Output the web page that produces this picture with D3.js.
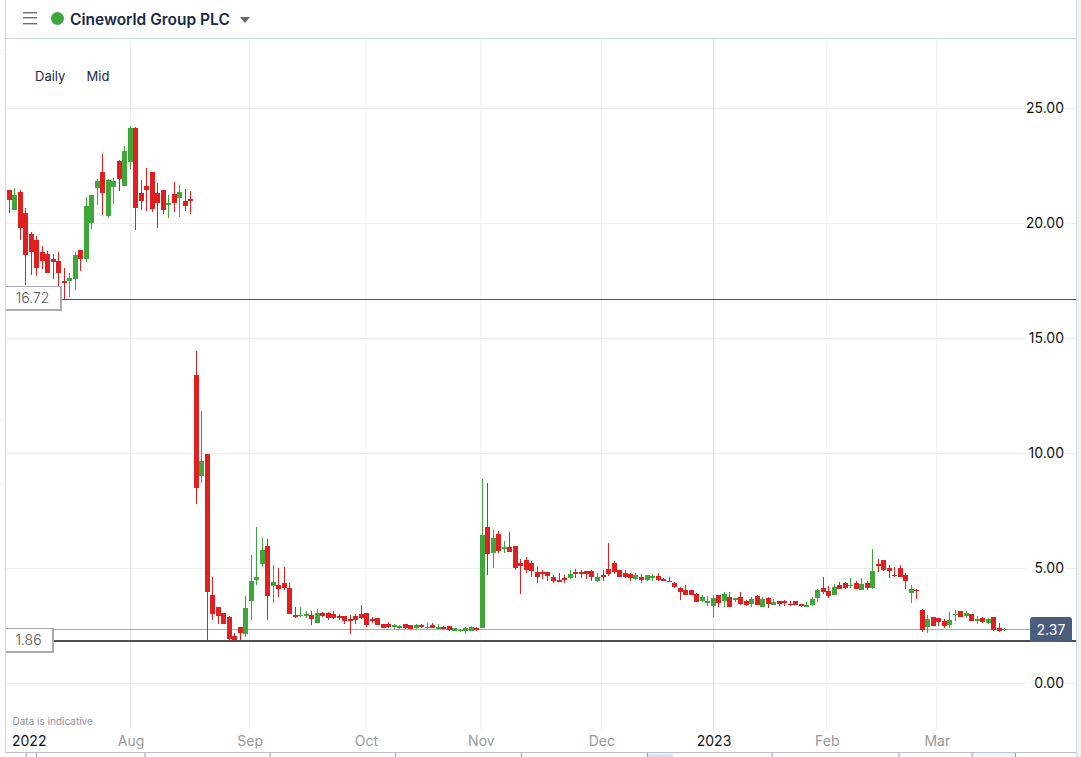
<!DOCTYPE html>
<html><head><meta charset="utf-8">
<script src="https://cdnjs.cloudflare.com/ajax/libs/d3/7.8.5/d3.min.js"></script>
<style>html,body{margin:0;padding:0;background:#fff;overflow:hidden}svg{display:block}text{font-family:Inter,"Noto Sans",sans-serif}</style>
</head><body><svg id="c" width="1081" height="757"></svg>
<script>
const instrument = "Cineworld Group PLC";
const opens = [21.43,20.57,21.35,20.43,19.52,19.26,18.74,18.65,18.43,18.35,
17.48,17.48,17.57,18.83,18.43,20.0,21.52,22.22,20.30,21.57,
22.70,21.61,22.65,24.13,21.30,21.61,22.22,21.30,21.43,20.80,
21.26,21.09,20.96,21.04,13.39,9.0,9.96,3.83,3.30,3.04,
2.87,2.04,2.43,2.13,3.57,4.48,5.17,5.96,4.22,4.26,
4.35,4.13,2.96,2.91,2.91,2.96,2.61,3.04,3.04,3.0,
2.91,2.91,2.78,2.91,3.0,3.04,2.78,2.83,2.57,2.57,
2.43,2.39,2.57,2.52,2.39,2.52,2.39,2.52,2.35,2.43,
2.48,2.26,2.26,2.26,2.26,2.39,2.39,6.78,5.65,6.48,
5.83,5.91,5.96,5.22,5.35,5.22,4.83,4.83,4.83,4.61,
4.48,4.57,4.57,4.83,4.83,4.87,4.87,4.43,4.70,4.96,
5.22,4.91,4.78,4.74,4.52,4.61,4.48,4.57,4.65,4.52,
4.43,4.35,4.13,4.04,4.04,3.87,3.57,3.48,3.35,3.83,
3.57,3.74,3.61,3.74,3.57,3.43,3.78,3.30,3.70,3.39,
3.57,3.57,3.43,3.57,3.43,3.30,3.39,3.70,4.13,4.0,
3.83,4.26,4.35,4.22,4.35,4.04,4.35,4.13,5.17,5.35,
5.0,4.70,5.0,4.70,3.91,4.04,3.17,2.43,2.87,2.83,
2.70,2.52,2.96,3.13,2.91,3.0,2.70,2.83,2.61,2.87,
2.39,2.30];
const closes = [21.0,21.22,19.78,18.61,18.74,18.04,18.35,17.83,18.30,17.83,
17.39,17.61,18.61,18.43,20.74,21.22,21.83,21.30,21.87,21.83,
21.91,23.13,24.13,20.65,20.96,21.43,20.61,20.87,20.57,20.87,
20.87,21.35,20.74,20.96,8.49,9.65,3.96,3.0,2.91,2.57,
1.91,1.87,2.17,3.26,4.43,4.61,5.78,3.78,4.39,4.09,
4.13,3.0,2.87,2.96,3.0,2.78,3.04,2.91,2.83,2.83,
2.83,2.70,2.70,2.74,2.83,2.52,2.70,2.52,2.39,2.43,
2.52,2.48,2.39,2.35,2.52,2.43,2.43,2.39,2.43,2.35,
2.30,2.39,2.30,2.39,2.43,2.30,6.43,5.61,6.30,5.74,
5.91,5.70,5.0,5.09,4.91,4.87,4.61,4.74,4.65,4.43,
4.39,4.48,4.74,4.74,4.74,4.74,4.61,4.61,4.61,4.74,
4.83,4.61,4.61,4.57,4.70,4.48,4.70,4.65,4.48,4.43,
4.39,4.17,3.96,3.83,3.83,3.52,3.74,3.57,3.70,3.48,
3.87,3.30,3.70,3.43,3.39,3.65,3.39,3.65,3.43,3.52,
3.43,3.48,3.39,3.39,3.35,3.39,3.65,4.04,3.96,3.78,
4.17,4.09,4.13,4.26,4.09,4.30,4.13,4.87,5.09,4.91,
4.87,4.65,4.61,4.43,4.09,4.0,2.30,2.78,2.48,2.65,
2.48,2.74,3.0,2.87,3.04,2.70,2.78,2.65,2.78,2.30,
2.26,2.35];
const highs = [21.43,21.52,21.43,20.65,19.61,19.43,19.0,18.78,18.65,18.74,
18.04,17.83,18.74,18.83,21.13,21.22,21.91,23.0,21.91,21.96,
22.74,23.35,24.22,24.19,21.87,22.39,22.22,21.74,21.43,21.22,
21.78,21.65,21.48,21.39,14.43,11.83,9.96,4.61,3.30,3.04,
2.91,2.17,2.43,3.78,5.57,6.78,6.30,6.26,5.13,5.0,
5.04,4.35,3.30,3.30,3.13,3.13,3.22,3.09,3.09,3.13,
3.0,2.91,2.96,3.0,3.39,3.04,2.87,2.83,2.57,2.65,
2.57,2.52,2.57,2.52,2.57,2.57,2.61,2.61,2.57,2.48,
2.48,2.39,2.35,2.43,2.48,2.43,8.87,8.70,6.65,6.61,
6.17,6.57,5.96,5.39,5.48,5.30,5.04,4.91,4.83,4.70,
4.78,4.70,4.91,4.96,4.91,4.87,4.91,4.78,4.91,6.09,
5.30,4.91,4.91,4.78,4.78,4.74,4.70,4.74,4.78,4.57,
4.61,4.39,4.17,4.26,4.04,3.91,3.83,3.78,3.83,3.83,
3.96,3.96,3.70,3.96,3.61,3.74,3.83,3.74,3.74,3.65,
3.57,3.61,3.57,3.57,3.43,3.52,3.74,4.09,4.61,4.22,
4.30,4.39,4.39,4.57,4.43,4.57,4.43,5.83,5.39,5.35,
5.13,5.04,5.13,4.78,4.26,4.09,3.22,2.96,2.87,2.83,
2.78,3.09,3.17,3.13,3.13,3.0,2.91,2.87,2.83,2.87,
2.61,2.39];
const lows = [20.45,20.57,19.26,17.30,17.74,17.70,18.0,17.83,17.57,17.23,
16.70,16.78,17.09,17.91,18.30,19.74,20.78,20.35,20.22,20.83,
21.39,21.61,22.35,19.70,20.57,20.52,20.48,19.78,20.39,20.22,
20.48,20.26,20.52,20.39,7.78,8.70,1.86,2.74,2.57,2.57,
1.86,1.86,1.86,2.0,2.74,4.26,5.04,2.74,3.48,3.74,
4.04,3.0,2.83,2.87,2.83,2.52,2.61,2.87,2.74,2.78,
2.74,2.57,2.13,2.57,2.78,2.43,2.61,2.52,2.39,2.39,
2.35,2.35,2.35,2.35,2.35,2.39,2.35,2.39,2.35,2.35,
2.26,2.26,2.22,2.17,2.26,2.26,2.39,4.70,5.0,5.65,
5.65,5.70,4.91,3.87,4.78,4.61,4.35,4.52,4.43,4.35,
4.39,4.35,4.52,4.57,4.57,4.52,4.43,4.39,4.43,4.65,
4.74,4.61,4.57,4.43,4.48,4.35,4.43,4.43,4.43,4.43,
4.39,4.13,3.61,3.83,3.83,3.52,3.52,3.35,2.87,3.30,
3.30,3.30,3.52,3.39,3.35,3.30,3.39,3.30,3.26,3.39,
3.35,3.35,3.35,3.39,3.30,3.30,3.35,3.52,3.87,3.70,
3.83,4.09,4.09,4.13,4.09,4.04,4.04,4.09,4.83,4.87,
4.57,4.61,4.61,4.09,3.48,3.65,2.22,2.17,2.48,2.48,
2.39,2.39,2.70,2.87,2.83,2.70,2.57,2.61,2.57,2.26,
2.22,2.26];
const priceTicks = [0,5,10,15,20,25];
const monthLabels = ["Aug","Sep","Oct","Nov","Dec","2023","Feb","Mar"];
const monthIndex = [22,43.66,64.8,85.7,107.6,128,148.6,168.6];
const firstLabel = "2022";
const highLevel = 16.72, lowLevel = 1.86, lastPrice = 2.37;

const RED="#e01f1f", GREEN="#3da73a", INK="#1b2a44", GRID="#eeeeee", EDGE="#cfdbdb";
const svg = d3.select("#c");
const x = d3.scaleLinear().domain([0,181]).range([9.5,1005]);
const y = d3.scaleLinear().domain([0,25]).range([683,108]);
const idx = d3.range(opens.length);
const lookup = new Map(monthIndex.map((d,i)=>[d,monthLabels[i]]));
const isYear = d=>/^\d/.test(lookup.get(d));

// frame strip right, faint marks left
svg.append("rect").attr("x",1076).attr("y",0).attr("width",5).attr("height",757).attr("fill","#eef3f3");
[50,419,483].forEach(v=>svg.append("rect").attr("x",0).attr("y",v).attr("width",5).attr("height",1).attr("fill","#eef1f1"));

// gridlines
svg.append("g").selectAll("line").data(priceTicks).join("line")
 .attr("x1",6).attr("x2",1076).attr("y1",d=>y(d)+.5).attr("y2",d=>y(d)+.5).attr("stroke",GRID);
svg.append("g").selectAll("line").data(monthIndex).join("line")
 .attr("x1",d=>x(d)).attr("x2",d=>x(d)).attr("y1",39).attr("y2",730).attr("stroke",d=>isYear(d)?"#dcdcdc":GRID);

// level lines
const lvl = v=>y(v)+.8;
svg.append("line").attr("x1",6).attr("x2",1030).attr("y1",Math.floor(lvl(lastPrice))+.5).attr("y2",Math.floor(lvl(lastPrice))+.5).attr("stroke","#a7acbb");
svg.append("line").attr("x1",60).attr("x2",1076).attr("y1",Math.floor(lvl(highLevel))+.5).attr("y2",Math.floor(lvl(highLevel))+.5).attr("stroke","#555");
svg.append("line").attr("x1",52).attr("x2",1076).attr("y1",Math.round(lvl(lowLevel))).attr("y2",Math.round(lvl(lowLevel))).attr("stroke","#505050").attr("stroke-width",2);

// candles
const col = i=>closes[i]>=opens[i]?GREEN:RED;
const left = i=>Math.floor(x(i)-2.5);
svg.append("g").selectAll("rect").data(idx).join("rect")
 .attr("x",i=>left(i)+2).attr("width",1)
 .attr("y",i=>Math.round(y(highs[i])))
 .attr("height",i=>Math.max(1,Math.round(y(lows[i]))-Math.round(y(highs[i]))))
 .attr("fill",col);
svg.append("g").selectAll("rect").data(idx).join("rect")
 .attr("x",left).attr("width",5)
 .attr("y",i=>Math.round(y(Math.max(opens[i],closes[i]))))
 .attr("height",i=>Math.max(1,Math.round(y(Math.min(opens[i],closes[i])))-Math.round(y(Math.max(opens[i],closes[i])))))
 .attr("fill",col);

// level boxes
function box(px,py,pw,ph,label){
 svg.append("rect").attr("x",px).attr("y",py).attr("width",pw).attr("height",ph).attr("fill","#a9aab8");
 svg.append("rect").attr("x",px).attr("y",py+1).attr("width",pw-2).attr("height",ph-3).attr("fill","#fff");
 svg.append("text").attr("x",px+pw/2-1.5).attr("y",py+ph/2+4).attr("text-anchor","middle").attr("font-size",14).attr("font-weight",300).attr("fill","#555").text(label);
}
box(6,286,56,25,highLevel.toFixed(2));
box(6,628,48,25,lowLevel.toFixed(2));

// price axis
const yAxis = svg.append("g").attr("transform","translate(1064,0)")
 .call(d3.axisLeft(y).tickValues(priceTicks).tickSize(0).tickPadding(0).tickFormat(d3.format(".2f")));
yAxis.select(".domain").remove();
yAxis.selectAll(".tick").insert("rect","text").attr("x",-38).attr("y",-8).attr("width",39).attr("height",18).attr("fill","#fff");
yAxis.selectAll("text").attr("font-family",null).attr("font-size",14).attr("font-weight",400).attr("fill","#111");
yAxis.attr("font-family",null);

// last price badge
svg.append("rect").attr("x",1030).attr("y",617).attr("width",42).attr("height",25).attr("rx",3).attr("fill","#4a5d7d");
svg.append("text").attr("x",1051).attr("y",635).attr("text-anchor","middle").attr("font-size",14).attr("fill","#fff").text(lastPrice.toFixed(2));

// time axis
const xAxis = svg.append("g").attr("transform","translate(0,730)")
 .call(d3.axisBottom(x).tickValues(monthIndex).tickSize(0).tickPadding(0).tickFormat(d=>lookup.get(d)));
xAxis.attr("font-family",null).select(".domain").remove();
xAxis.selectAll("text").attr("font-family",null).attr("y",16).attr("dy",0).attr("font-size",14)
 .attr("fill",d=>isYear(d)?"#111":"#999");
svg.append("text").attr("x",12).attr("y",746).attr("font-size",14).attr("fill","#111").text(firstLabel);
svg.append("text").attr("x",12.5).attr("y",725).attr("font-size",10).attr("fill","#8f8f9c").text("Data is indicative");

// bottom frame with navigator ticks
svg.append("rect").attr("x",972).attr("y",753).attr("width",43).attr("height",4).attr("fill","#f1f3f7");
svg.append("rect").attr("x",647).attr("y",754).attr("width",26).attr("height",3).attr("fill","#d5e5f5");
svg.append("rect").attr("x",5).attr("y",752).attr("width",1071).attr("height",1).attr("fill","#bcbccb");
const navX = [25.7,36,144.6,269.6,395,521,647,771.7,898.6,971.7,1015];
svg.append("g").selectAll("rect").data(navX).join("rect").attr("x",d=>d).attr("y",753).attr("width",1).attr("height",4).attr("fill","#9a9aaa");

// frame and header
svg.append("rect").attr("x",5).attr("y",38).attr("width",1071).attr("height",1).attr("fill",EDGE);
svg.append("rect").attr("x",5).attr("y",0).attr("width",1).attr("height",753).attr("fill",EDGE);
svg.append("rect").attr("x",1076).attr("y",0).attr("width",1).attr("height",757).attr("fill",EDGE);
[12,17,23].forEach(v=>svg.append("rect").attr("x",23).attr("y",v).attr("width",14).attr("height",1.4).attr("fill","#6d6d7d"));
svg.append("circle").attr("cx",57.5).attr("cy",18.5).attr("r",6.5).attr("fill",GREEN);
svg.append("text").attr("x",70).attr("y",25).attr("font-size",15.5).attr("font-weight",600).attr("fill",INK).text(instrument);
svg.append("path").attr("d",d3.line()([[240,17],[250,17],[245,23]])+"Z").attr("fill","#666");
svg.append("text").attr("x",35).attr("y",81).attr("font-size",13).attr("fill",INK).text("Daily");
svg.append("text").attr("x",86.5).attr("y",81).attr("font-size",13).attr("fill",INK).text("Mid");
</script></body></html>
